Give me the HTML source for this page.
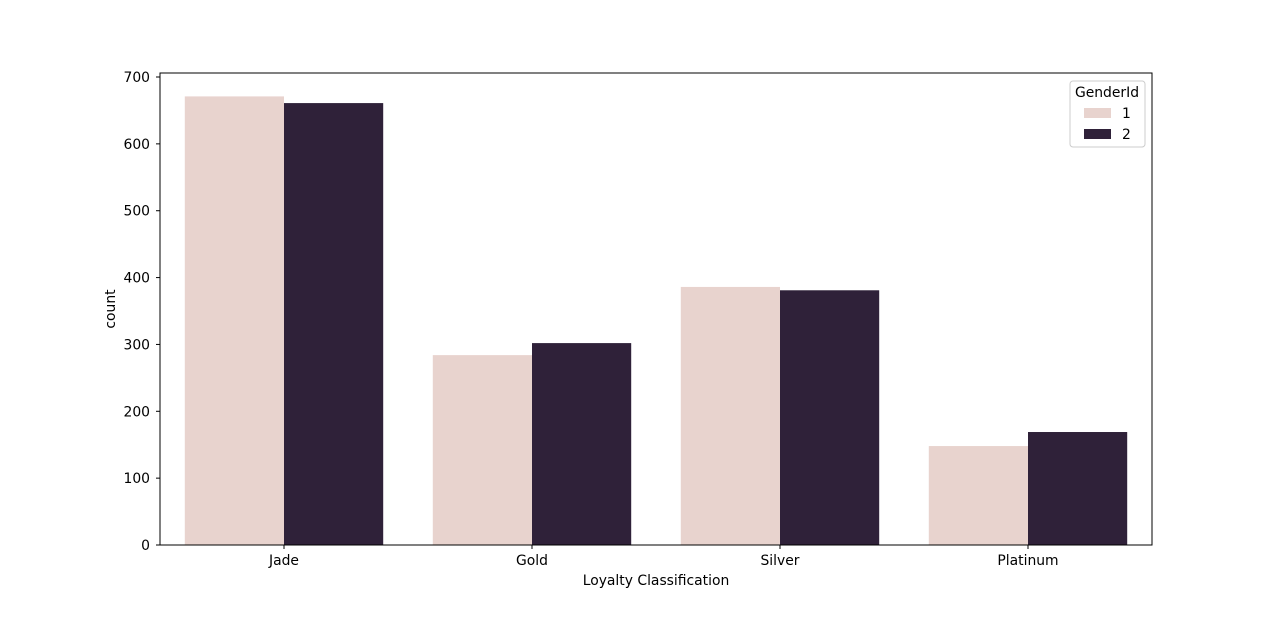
<!DOCTYPE html>
<html><head><meta charset="utf-8"><style>
body{margin:0;background:#fff;}
svg text{font-family:"DejaVu Sans","Liberation Sans",sans-serif;font-size:13.9px;fill:#000;}
</style></head><body>
<svg id="chart" width="1280" height="612">
</svg>
<script>
const categories = ["Jade","Gold","Silver","Platinum"];
const series1 = [671, 284, 386, 148];
const series2 = [661, 302, 381, 169];
const yTicks = [0,100,200,300,400,500,600,700];
const seriesNames = ["1","2"];

const L=160,R=1152,T=73,B=545,YMAX=706;
const NS="http://www.w3.org/2000/svg";
const svg=document.getElementById('chart');
function y(v){return B-(v/YMAX)*(B-T);}
const band=(R-L)/categories.length;
function xc(i){return L+band*(i+0.5);}
function mk(tag,attrs,parent){const e=document.createElementNS(NS,tag);for(const k in attrs)e.setAttribute(k,attrs[k]);(parent||svg).appendChild(e);return e;}
const colors=["#e8d3ce","#2f2139"];
const bw=band*0.4;
[series1,series2].forEach((s,si)=>{
  s.forEach((v,i)=>{
    const r=mk('rect',{x:xc(i)-bw+si*bw,y:y(v),width:bw,height:B-y(v),fill:colors[si]});
    
    
  });
});
const frame=mk('rect',{x:L,y:T,width:R-L,height:B-T,fill:'none',stroke:'#000','stroke-width':1});


yTicks.forEach(t=>{
  mk('line',{x1:L-4,x2:L,y1:y(t),y2:y(t),stroke:'#000'});
  const tx=mk('text',{x:L-10,y:y(t)+5,'text-anchor':'end'});tx.textContent=t;
  
  
});
categories.forEach((c,i)=>{
  mk('line',{x1:xc(i),x2:xc(i),y1:B,y2:B+4,stroke:'#000'});
  const tx=mk('text',{x:xc(i),y:B+20,'text-anchor':'middle'});tx.textContent=c;
  
  
});
const xt=mk('text',{x:(L+R)/2,y:585,'text-anchor':'middle'});xt.textContent='Loyalty Classification';


const yt=mk('text',{x:115,y:(T+B)/2,'text-anchor':'middle',transform:'rotate(-90 115 '+((T+B)/2)+')'});yt.textContent='count';


const lg=mk('g',{});


mk('rect',{x:1070,y:81,width:75,height:66,rx:3,fill:'#fff',stroke:'#ccc'},lg);
const lt=mk('text',{x:1107,y:97,'text-anchor':'middle'},lg);lt.textContent='GenderId';
seriesNames.forEach((n,i)=>{
  const g=mk('g',{},lg);
  
  
  mk('rect',{x:1084,y:108+i*21,width:27,height:10,fill:colors[i]},g);
  const t=mk('text',{x:1122,y:118+i*21},g);t.textContent=n;
});
</script>
</body></html>
